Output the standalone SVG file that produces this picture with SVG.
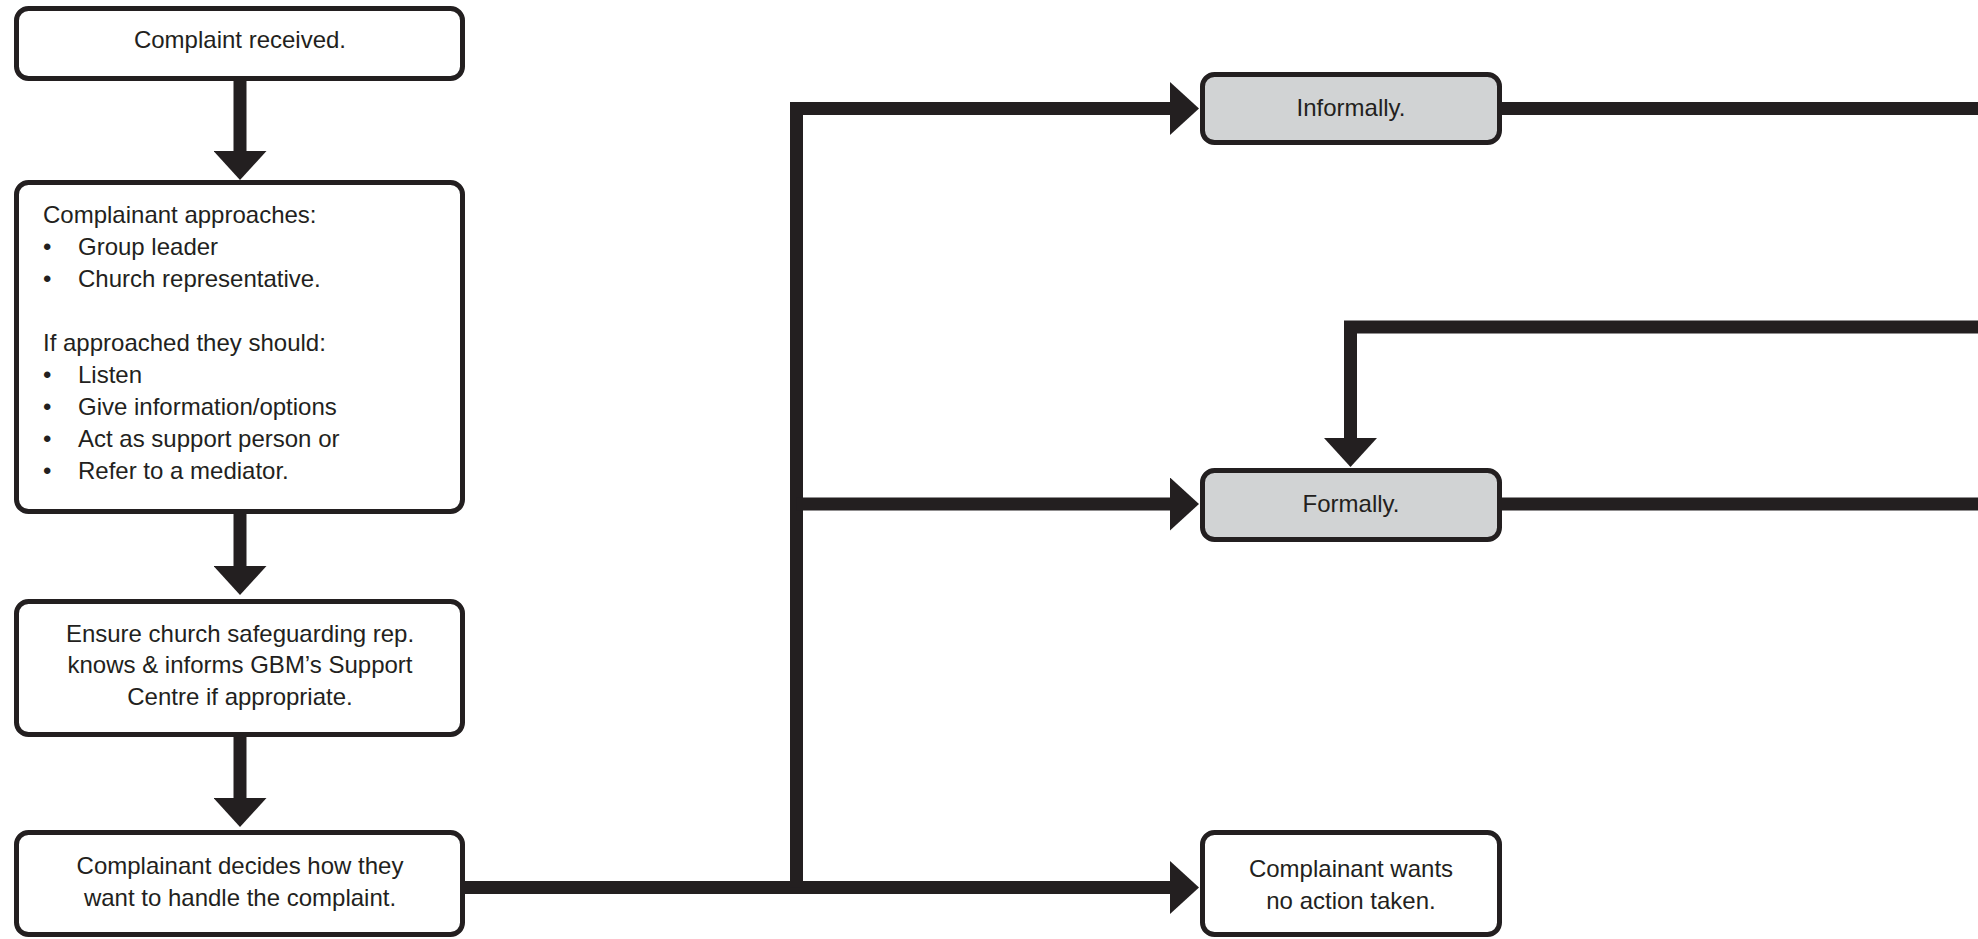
<svg xmlns="http://www.w3.org/2000/svg" width="1978" height="939" viewBox="0 0 1978 939">
<style>
.box{fill:#ffffff;stroke:#231f20;stroke-width:5}
.grey{fill:#d1d3d4;stroke:#231f20;stroke-width:5}
.t{font-family:"Liberation Sans",Arial,sans-serif;font-size:24px;fill:#231f20}
.c{text-anchor:middle}
.ln{fill:none;stroke:#231f20;stroke-width:13;stroke-linecap:butt;stroke-linejoin:miter}
</style>
<defs>
<marker id="ah" markerUnits="userSpaceOnUse" markerWidth="29" markerHeight="53" viewBox="0 0 29 53" refX="0" refY="26.5" orient="auto">
<path d="M0,0 L29,26.5 L0,53 Z" fill="#231f20"/>
</marker>
</defs>
<rect width="1978" height="939" fill="#ffffff"/>
<g id="connectors">
<path class="ln" d="M240,80 V151" marker-end="url(#ah)"/>
<path class="ln" d="M240,513 V566" marker-end="url(#ah)"/>
<path class="ln" d="M240,736 V798" marker-end="url(#ah)"/>
<path class="ln" d="M464,887.5 H1170" marker-end="url(#ah)"/>
<path class="ln" d="M796.5,887.5 V108.5 H1170" marker-end="url(#ah)"/>
<path class="ln" d="M796.5,504 H1170" marker-end="url(#ah)"/>
<path class="ln" d="M1501,108.5 H1978"/>
<path class="ln" d="M1501,504 H1978"/>
<path class="ln" d="M1978,327 H1350.5 V438" marker-end="url(#ah)"/>
</g>
<g id="n1">
<rect class="box" x="16.5" y="8.5" width="446" height="70" rx="12"/>
<text class="t c" x="240" y="48">Complaint received.</text>
</g>
<g id="n2">
<rect class="box" x="16.5" y="182.5" width="446" height="329" rx="12"/>
<text class="t" x="43" y="223">Complainant approaches:</text>
<text class="t" x="43" y="255">•</text><text class="t" x="78" y="255">Group leader</text>
<text class="t" x="43" y="287">•</text><text class="t" x="78" y="287">Church representative.</text>
<text class="t" x="43" y="351">If approached they should:</text>
<text class="t" x="43" y="383">•</text><text class="t" x="78" y="383">Listen</text>
<text class="t" x="43" y="415">•</text><text class="t" x="78" y="415">Give information/options</text>
<text class="t" x="43" y="447">•</text><text class="t" x="78" y="447">Act as support person or</text>
<text class="t" x="43" y="479">•</text><text class="t" x="78" y="479">Refer to a mediator.</text>
</g>
<g id="n3">
<rect class="box" x="16.5" y="601.5" width="446" height="133" rx="12"/>
<text class="t c" x="240" y="642">Ensure church safeguarding rep.</text>
<text class="t c" x="240" y="673">knows &amp; informs GBM’s Support</text>
<text class="t c" x="240" y="705">Centre if appropriate.</text>
</g>
<g id="n4">
<rect class="box" x="16.5" y="832.5" width="446" height="102" rx="12"/>
<text class="t c" x="240" y="874">Complainant decides how they</text>
<text class="t c" x="240" y="906">want to handle the complaint.</text>
</g>
<g id="n5">
<rect class="grey" x="1202.5" y="74.5" width="297" height="68" rx="12"/>
<text class="t c" x="1351" y="116">Informally.</text>
</g>
<g id="n6">
<rect class="grey" x="1202.5" y="470.5" width="297" height="69" rx="12"/>
<text class="t c" x="1351" y="512">Formally.</text>
</g>
<g id="n7">
<rect class="box" x="1202.5" y="832.5" width="297" height="102" rx="12"/>
<text class="t c" x="1351" y="877">Complainant wants</text>
<text class="t c" x="1351" y="909">no action taken.</text>
</g>
</svg>
